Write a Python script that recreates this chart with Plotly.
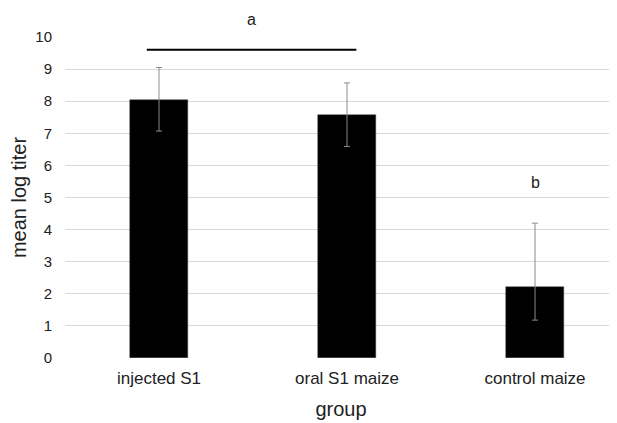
import plotly.graph_objects as go

groups = ["injected S1", "oral S1 maize", "control maize"]
mean_log_titer = [8.05, 7.57, 2.2]
err_plus = [1.0, 1.0, 2.0]
err_minus = [0.98, 0.98, 1.02]
sig_letters = ["a", "b"]

font_family = "Liberation Sans, Arial, sans-serif"

fig = go.Figure()
fig.add_trace(go.Bar(
    x=[0, 1, 2], y=mean_log_titer,
    width=0.31,
    marker=dict(color="black", line=dict(color="#404040", width=0.5)),
    error_y=dict(type="data", symmetric=False, array=err_plus, arrayminus=err_minus,
                 color="#8c8c8c", thickness=1, width=3),
    showlegend=False,
))

fig.add_shape(type="line", xref="x", yref="y", x0=-0.065, x1=1.05, y0=9.6, y1=9.6,
              line=dict(color="black", width=2))
fig.add_annotation(x=0.49, y=1.055, xref="x", yref="paper", text=sig_letters[0], showarrow=False,
                   font=dict(size=16, color="#222", family=font_family), yanchor="middle", xanchor="center")
fig.add_annotation(x=2.0, y=5.47, xref="x", yref="y", text=sig_letters[1], showarrow=False,
                   font=dict(size=16, color="#222", family=font_family), yanchor="middle", xanchor="center")

fig.update_layout(
    width=609, height=415,
    margin=dict(l=57, r=0, t=29, b=65),
    plot_bgcolor="white", paper_bgcolor="white",
    font=dict(family=font_family, color="#222"),
    bargap=0,
)
fig.update_xaxes(
    range=[-0.5, 2.436],
    tickmode="array", tickvals=[0, 1, 2], ticktext=groups,
    tickfont=dict(size=17, color="#222"),
    showgrid=False, showline=False, zeroline=False, ticks="",
    ticklabelstandoff=8,
    title=dict(text="group", font=dict(size=20, color="#222"), standoff=14),
)
fig.update_yaxes(
    range=[0, 10], dtick=1,
    tickfont=dict(size=15, color="#222"),
    showgrid=True, gridcolor="#d9d9d9", gridwidth=1,
    zeroline=False, showline=False, ticks="", ticklabelstandoff=12,
    title=dict(text="mean log titer", font=dict(size=20, color="#222"), standoff=10),
)

fig.write_html("out.html")
